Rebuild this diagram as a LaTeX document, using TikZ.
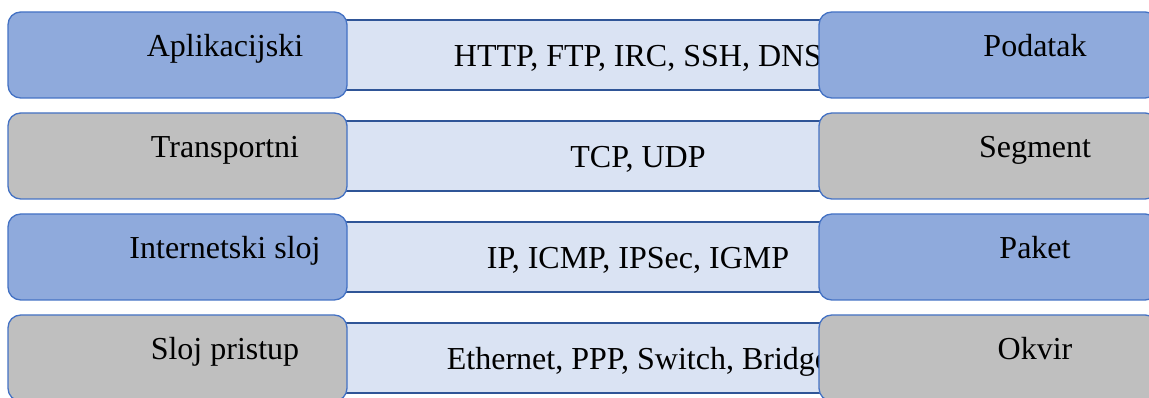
\documentclass[tikz,border=0pt]{standalone}
\usepackage{fontspec}
\setmainfont{Liberation Serif}
\definecolor{layblue}{HTML}{8FAADC}
\definecolor{laygray}{HTML}{BFBFBF}
\definecolor{layedge}{HTML}{4472C4}
\definecolor{protofill}{HTML}{DAE3F3}
\definecolor{protoedge}{HTML}{2F5597}
\begin{document}
\begin{tikzpicture}[x=0.75pt, y=-0.75pt,
  laybox/.style={rectangle, rounded corners=9.5pt, draw=layedge, line width=1pt, minimum width=254.25pt, minimum height=64.5pt, inner sep=0pt, outer sep=0pt},
  protobox/.style={rectangle, draw=protoedge, line width=1.5pt, fill=protofill, minimum width=438pt, minimum height=52.5pt, inner sep=0pt, outer sep=0pt},
  txt/.style={anchor=base, inner sep=0pt, font=\fontsize{24}{28}\selectfont}]
\useasboundingbox (0,0) rectangle (1149,398);
\node[protobox] (proto1) at (638,55){};
\node[laybox, fill=layblue] (lay1) at (177.5,55){};
\node[txt] (lay1txt) at (225,57){Aplikacijski};
\node[txt] (proto1txt) at (638,67){HTTP, FTP, IRC, SSH, DNS};
\node[laybox, fill=layblue] (unit1) at (988.5,55){};
\node[txt] (unit1txt) at (1035,57){Podatak};
\node[protobox] (proto2) at (638,156){};
\node[laybox, fill=laygray] (lay2) at (177.5,156){};
\node[txt] (lay2txt) at (225,158){Transportni};
\node[txt] (proto2txt) at (638,168){TCP, UDP};
\node[laybox, fill=laygray] (unit2) at (988.5,156){};
\node[txt] (unit2txt) at (1035,158){Segment};
\node[protobox] (proto3) at (638,257){};
\node[laybox, fill=layblue] (lay3) at (177.5,257){};
\node[txt] (lay3txt) at (225,259){Internetski sloj};
\node[txt] (proto3txt) at (638,269){IP, ICMP, IPSec, IGMP};
\node[laybox, fill=layblue] (unit3) at (988.5,257){};
\node[txt] (unit3txt) at (1035,259){Paket};
\node[protobox] (proto4) at (638,358){};
\node[laybox, fill=laygray] (lay4) at (177.5,358){};
\node[txt] (lay4txt) at (225,360){Sloj pristup};
\node[txt] (proto4txt) at (638,370){Ethernet, PPP, Switch, Bridge};
\node[laybox, fill=laygray] (unit4) at (988.5,358){};
\node[txt] (unit4txt) at (1035,360){Okvir};
\end{tikzpicture}
\end{document}
